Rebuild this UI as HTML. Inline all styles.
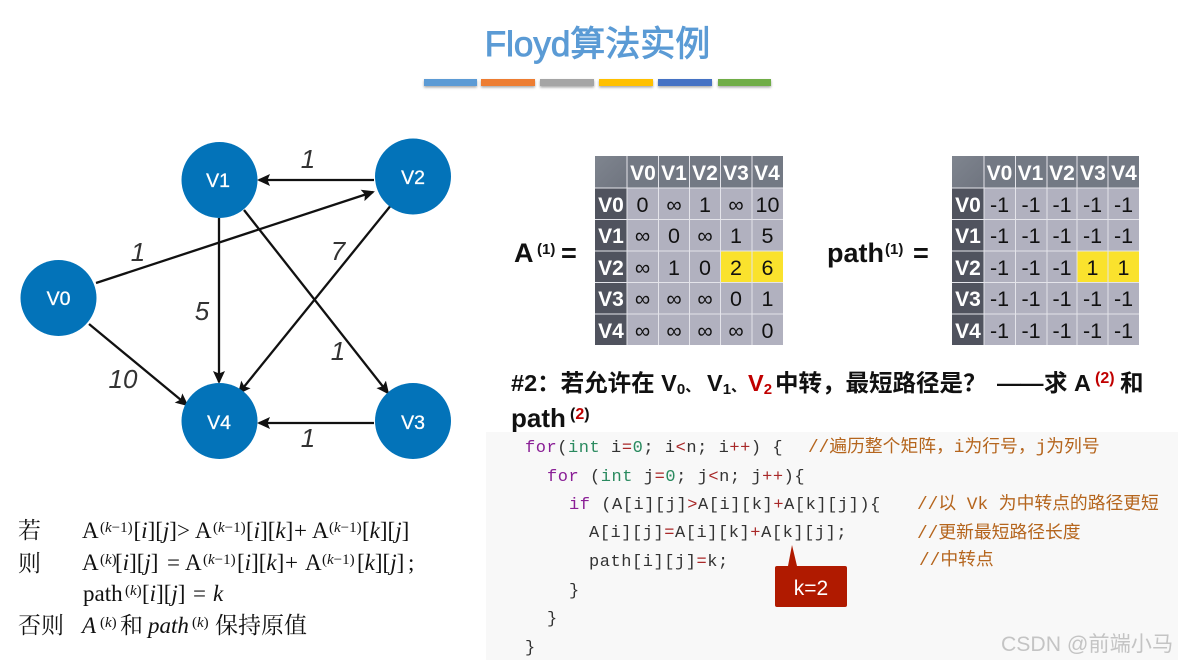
<!DOCTYPE html>
<html><head><meta charset="utf-8"><title>Floyd算法实例</title>
<style>
html,body{margin:0;padding:0;background:#fff;width:1178px;height:663px;overflow:hidden}
svg{display:block}
text{font-family:"Liberation Sans","Noto Sans CJK SC",sans-serif}
.h{font-weight:bold;font-size:21px;fill:#fff;text-anchor:middle}
.c{font-size:21.500px;fill:#111;text-anchor:middle}
.n{font-size:19.500px;fill:#fff;text-anchor:middle;stroke:#fff;stroke-width:.3px}
.e{font-size:26px;font-style:italic;fill:#333;text-anchor:middle}
.b{font-weight:bold;fill:#111}
.s{font-family:"Liberation Serif","Noto Serif CJK SC",serif;fill:#111;font-size:23px}
.s .i,.i{font-style:italic}
.u{font-size:15px}
.m{font-family:"Liberation Mono","Noto Sans CJK SC",monospace;font-size:17px;letter-spacing:.55px;fill:#333}
.k{fill:#8a1f96}.t{fill:#2a8a5f}.o{fill:#a82828}
.cm{font-family:"Liberation Mono","Noto Sans CJK SC",monospace;font-size:17.800px;fill:#b5651d}
</style></head><body>
<svg width="1178" height="663" viewBox="0 0 1178 663" xmlns="http://www.w3.org/2000/svg">
<defs>
<marker id="a" markerUnits="userSpaceOnUse" markerWidth="16" markerHeight="16" refX="11" refY="7" orient="auto"><path d="M0 1L13 7L0 13L2.500 7Z" fill="#111"/></marker>
<filter id="sh" x="-5%" y="-50%" width="110%" height="220%"><feDropShadow dx="0" dy="1.500" stdDeviation="1.200" flood-color="#000" flood-opacity=".35"/></filter>
<linearGradient id="hg" x1="0" y1="0" x2="1" y2="1"><stop offset="0" stop-color="#7f858f"/><stop offset="1" stop-color="#6f747f"/></linearGradient>
</defs>

<!-- title -->
<text x="597.500" y="56" text-anchor="middle" font-size="35" fill="#5b9bd5" stroke="#5b9bd5" stroke-width=".9" style="font-kerning:none">Floyd算法实例</text>
<g filter="url(#sh)">
<rect x="424" y="79" width="53" height="7" fill="#5b9bd5"/>
<rect x="481" y="79" width="54" height="7" fill="#ed7d31"/>
<rect x="540" y="79" width="54" height="7" fill="#a5a5a5"/>
<rect x="599" y="79" width="54" height="7" fill="#ffc000"/>
<rect x="658" y="79" width="54" height="7" fill="#4472c4"/>
<rect x="718" y="79" width="53" height="7" fill="#70ad47"/>
</g>

<!-- graph -->
<g stroke="#111" stroke-width="2.300" fill="none">
<line x1="374" y1="180" x2="259" y2="180" marker-end="url(#a)"/>
<line x1="96" y1="283" x2="373" y2="192" marker-end="url(#a)"/>
<line x1="219" y1="218" x2="219" y2="382" marker-end="url(#a)"/>
<line x1="244" y1="210" x2="388" y2="393" marker-end="url(#a)"/>
<line x1="392" y1="204" x2="239" y2="393" marker-end="url(#a)"/>
<line x1="89" y1="324" x2="187" y2="405" marker-end="url(#a)"/>
<line x1="374" y1="423" x2="259" y2="423" marker-end="url(#a)"/>
</g>
<g fill="#0373b9">
<circle cx="219.500" cy="180" r="38"/>
<circle cx="413" cy="176.500" r="38"/>
<circle cx="58.500" cy="298" r="38"/>
<circle cx="219.500" cy="421" r="38"/>
<circle cx="413" cy="421" r="38"/>
</g>
<text class="n" x="218" y="187">V1</text>
<text class="n" x="413" y="184">V2</text>
<text class="n" x="58.500" y="305">V0</text>
<text class="n" x="219" y="429">V4</text>
<text class="n" x="413" y="429">V3</text>
<text class="e" x="308" y="168">1</text>
<text class="e" x="138" y="261">1</text>
<text class="e" x="338" y="260">7</text>
<text class="e" x="202" y="320">5</text>
<text class="e" x="338" y="360">1</text>
<text class="e" x="123" y="388">10</text>
<text class="e" x="308" y="447">1</text>

<!-- table A -->
<rect x="595" y="156" width="188" height="189" fill="#b1b1bf"/>
<rect x="595" y="156" width="32" height="32" fill="url(#hg)"/>
<rect x="627" y="156" width="156" height="32" fill="#737984"/>
<rect x="595" y="188" width="32" height="157" fill="#50535e"/>
<rect x="720.500" y="251" width="62.500" height="31.500" fill="#fae22d"/>
<g stroke="#e4e4ea" stroke-width="1" fill="none">
<path d="M627 156V345M658.500 156V345M689.500 156V345M720.500 156V345M752 156V345M595 188H783M595 219.500H783M595 251H783M595 282.500H783M595 314H783"/>
</g>
<text class="h" y="180"><tspan x="643">V0</tspan><tspan x="674">V1</tspan><tspan x="705">V2</tspan><tspan x="736">V3</tspan><tspan x="767">V4</tspan></text>
<text class="h" y="212" x="611">V0</text><text class="h" y="243" x="611">V1</text><text class="h" y="275" x="611">V2</text><text class="h" y="306" x="611">V3</text><text class="h" y="338" x="611">V4</text>
<text class="c" y="212"><tspan x="642.500">0</tspan><tspan x="674">∞</tspan><tspan x="705">1</tspan><tspan x="736">∞</tspan><tspan x="767.500">10</tspan></text>
<text class="c" y="243"><tspan x="642.500">∞</tspan><tspan x="674">0</tspan><tspan x="705">∞</tspan><tspan x="736">1</tspan><tspan x="767.500">5</tspan></text>
<text class="c" y="275"><tspan x="642.500">∞</tspan><tspan x="674">1</tspan><tspan x="705">0</tspan><tspan x="736">2</tspan><tspan x="767.500">6</tspan></text>
<text class="c" y="306"><tspan x="642.500">∞</tspan><tspan x="674">∞</tspan><tspan x="705">∞</tspan><tspan x="736">0</tspan><tspan x="767.500">1</tspan></text>
<text class="c" y="338"><tspan x="642.500">∞</tspan><tspan x="674">∞</tspan><tspan x="705">∞</tspan><tspan x="736">∞</tspan><tspan x="767.500">0</tspan></text>
<text class="b" y="262" font-size="27"><tspan x="514">A</tspan><tspan font-size="15" x="537" y="254">(1)</tspan><tspan y="262" x="561">=</tspan></text>

<!-- table path -->
<rect x="952" y="156" width="187" height="189" fill="#b1b1bf"/>
<rect x="952" y="156" width="32" height="32" fill="url(#hg)"/>
<rect x="984" y="156" width="155" height="32" fill="#737984"/>
<rect x="952" y="188" width="32" height="157" fill="#50535e"/>
<rect x="1077" y="251" width="62" height="31.500" fill="#fae22d"/>
<g stroke="#e4e4ea" stroke-width="1" fill="none">
<path d="M984 156V345M1015.500 156V345M1047 156V345M1077 156V345M1108 156V345M952 188H1139M952 219.500H1139M952 251H1139M952 282.500H1139M952 314H1139"/>
</g>
<text class="h" y="180"><tspan x="999.500">V0</tspan><tspan x="1030.500">V1</tspan><tspan x="1062">V2</tspan><tspan x="1093">V3</tspan><tspan x="1124">V4</tspan></text>
<text class="h" y="212" x="968">V0</text><text class="h" y="243" x="968">V1</text><text class="h" y="275" x="968">V2</text><text class="h" y="306" x="968">V3</text><text class="h" y="338" x="968">V4</text>
<text class="c" y="212"><tspan x="999.500">-1</tspan><tspan x="1031">-1</tspan><tspan x="1062">-1</tspan><tspan x="1092.500">-1</tspan><tspan x="1123.500">-1</tspan></text>
<text class="c" y="243"><tspan x="999.500">-1</tspan><tspan x="1031">-1</tspan><tspan x="1062">-1</tspan><tspan x="1092.500">-1</tspan><tspan x="1123.500">-1</tspan></text>
<text class="c" y="275"><tspan x="999.500">-1</tspan><tspan x="1031">-1</tspan><tspan x="1062">-1</tspan><tspan x="1092.500">1</tspan><tspan x="1123.500">1</tspan></text>
<text class="c" y="306"><tspan x="999.500">-1</tspan><tspan x="1031">-1</tspan><tspan x="1062">-1</tspan><tspan x="1092.500">-1</tspan><tspan x="1123.500">-1</tspan></text>
<text class="c" y="338"><tspan x="999.500">-1</tspan><tspan x="1031">-1</tspan><tspan x="1062">-1</tspan><tspan x="1092.500">-1</tspan><tspan x="1123.500">-1</tspan></text>
<text class="b" y="262" font-size="27"><tspan x="827">path</tspan><tspan font-size="15" x="885" y="254">(1)</tspan><tspan y="262" x="913">=</tspan></text>

<!-- heading -->
<text class="b" font-size="23.500"><tspan x="511" y="391">#2：若允许在 V</tspan><tspan font-size="15" y="394">0</tspan><tspan y="391" font-size="15">、</tspan><tspan x="707">V</tspan><tspan font-size="15" y="394">1</tspan><tspan y="391" font-size="15">、</tspan><tspan x="748" fill="#c00000">V</tspan><tspan font-size="15" y="394" fill="#c00000">2</tspan><tspan y="391" x="775">中转，最短路径是？</tspan><tspan x="997">—</tspan><tspan x="1020">—</tspan><tspan x="1044">求</tspan><tspan x="1074">A</tspan><tspan font-size="16" x="1095" y="383" fill="#c00000">(2)</tspan><tspan y="391" x="1120">和</tspan></text>
<text class="b" y="427" font-size="26"><tspan x="511">path</tspan><tspan font-size="16" x="570" y="419">(</tspan><tspan font-size="16" fill="#c00000">2</tspan><tspan font-size="16">)</tspan></text>

<!-- code -->
<rect x="486" y="432" width="692" height="228" fill="#f8f8f8"/>
<text class="m" x="525" y="452"><tspan class="k">for</tspan>(<tspan class="t">int</tspan> i<tspan class="o">=</tspan><tspan class="t">0</tspan>; i<tspan class="o">&lt;</tspan>n; i<tspan class="o">++</tspan>) {</text>
<text class="cm" x="808" y="452">//遍历整个矩阵，i为行号，j为列号</text>
<text class="m" x="547" y="481"><tspan class="k">for</tspan> (<tspan class="t">int</tspan> j<tspan class="o">=</tspan><tspan class="t">0</tspan>; j<tspan class="o">&lt;</tspan>n; j<tspan class="o">++</tspan>){</text>
<text class="m" x="569" y="509"><tspan class="k">if</tspan> (A[i][j]<tspan class="o">&gt;</tspan>A[i][k]<tspan class="o">+</tspan>A[k][j]){</text>
<text class="cm" x="917" y="509">//以 Vk 为中转点的路径更短</text>
<text class="m" x="589" y="537">A[i][j]<tspan class="o">=</tspan>A[i][k]<tspan class="o">+</tspan>A[k][j];</text>
<text class="cm" x="917" y="538">//更新最短路径长度</text>
<text class="m" x="589" y="566">path[i][j]<tspan class="o">=</tspan>k;</text>
<text class="cm" x="919" y="565">//中转点</text>
<text class="m" x="569" y="595">}</text>
<text class="m" x="547" y="623">}</text>
<text class="m" x="525" y="652">}</text>

<!-- callout -->
<path d="M792 545L797 566H845Q847 566 847 568V605Q847 607 845 607H777Q775 607 775 605V568Q775 566 777 566H788Z" fill="#b01a00"/>
<text x="811" y="595" text-anchor="middle" font-size="21" fill="#fff">k=2</text>

<!-- formula -->
<text class="s" x="18" y="538" font-size="22">若</text>
<text class="s" x="18" y="571" font-size="22">则</text>
<text class="s" x="18" y="633" font-size="22">否则</text>
<text class="s" y="538"><tspan x="82">A</tspan><tspan class="u" x="100" y="532">(</tspan><tspan class="u i">k</tspan><tspan class="u">−1)</tspan><tspan x="133.500" y="538">[</tspan><tspan class="i">i</tspan>][<tspan class="i">j</tspan>]<tspan x="177">&gt;</tspan><tspan x="195">A</tspan><tspan class="u" x="213" y="532">(</tspan><tspan class="u i">k</tspan><tspan class="u">−1)</tspan><tspan x="246" y="538">[</tspan><tspan class="i">i</tspan>][<tspan class="i">k</tspan>]<tspan x="294">+</tspan><tspan x="312">A</tspan><tspan class="u" x="329" y="532">(</tspan><tspan class="u i">k</tspan><tspan class="u">−1)</tspan><tspan x="362" y="538">[</tspan><tspan class="i">k</tspan>][<tspan class="i">j</tspan>]</text>
<text class="s" y="570"><tspan x="82">A</tspan><tspan class="u" x="100" y="564">(</tspan><tspan class="u i">k</tspan><tspan class="u">)</tspan><tspan x="115" y="570">[</tspan><tspan class="i">i</tspan>][<tspan class="i">j</tspan>]<tspan x="167">=</tspan><tspan x="185">A</tspan><tspan class="u" x="203" y="564">(</tspan><tspan class="u i">k</tspan><tspan class="u">−1)</tspan><tspan x="237" y="570">[</tspan><tspan class="i">i</tspan>][<tspan class="i">k</tspan>]<tspan x="285">+</tspan><tspan x="305">A</tspan><tspan class="u" x="322" y="564">(</tspan><tspan class="u i">k</tspan><tspan class="u">−1)</tspan><tspan x="357" y="570">[</tspan><tspan class="i">k</tspan>][<tspan class="i">j</tspan>]<tspan x="408">;</tspan></text>
<text class="s" y="601"><tspan x="83">path</tspan><tspan class="u" x="125" y="595">(</tspan><tspan class="u i">k</tspan><tspan class="u">)</tspan><tspan x="142" y="601">[</tspan><tspan class="i">i</tspan>][<tspan class="i">j</tspan>]<tspan x="193">=</tspan><tspan x="213" class="i">k</tspan></text>
<text class="s" y="633"><tspan x="82" class="i">A</tspan><tspan class="u" x="100" y="627">(</tspan><tspan class="u i">k</tspan><tspan class="u">)</tspan><tspan x="120" y="633">和</tspan><tspan x="148" class="i">path</tspan><tspan class="u" x="192" y="627">(</tspan><tspan class="u i">k</tspan><tspan class="u">)</tspan><tspan x="215" y="633">保持原值</tspan></text>

<!-- watermark -->
<text x="1001" y="651" font-size="21.200" fill="#c4c4c4">CSDN @前端小马</text>
</svg>
</body></html>
